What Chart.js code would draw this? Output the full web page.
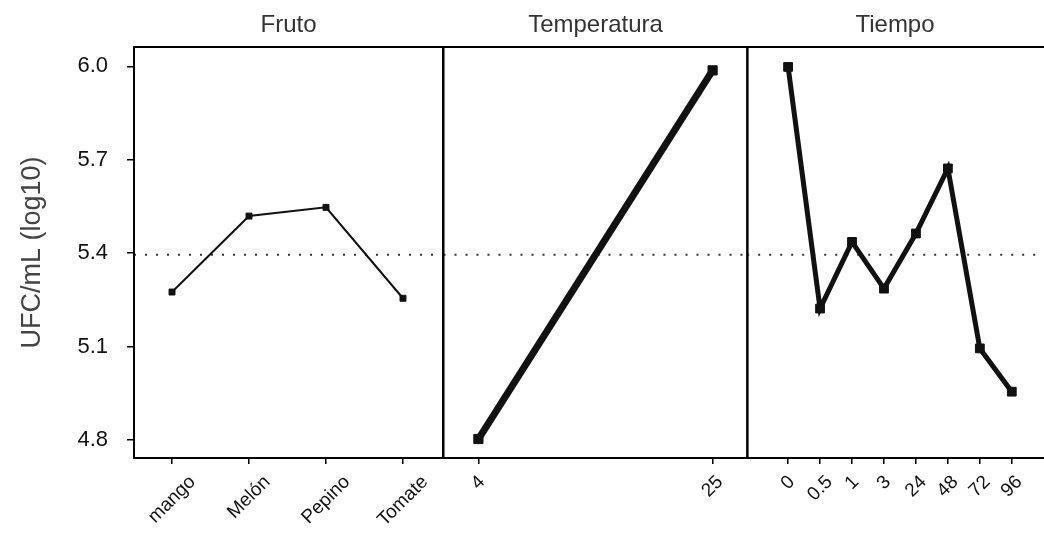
<!DOCTYPE html>
<html>
<head>
<meta charset="utf-8">
<title>Efectos principales - UFC/mL</title>
<script src="https://cdn.jsdelivr.net/npm/chart.js@4.4.1/dist/chart.umd.min.js"></script>
<style>
  html, body { margin: 0; padding: 0; background: #fff; overflow: hidden; }
  #wrap { position: relative; width: 1044px; height: 533px; }
  canvas { position: absolute; top: 0; }
</style>
</head>
<body>
<div id="wrap">
  <canvas id="cFruto" width="450" height="533" style="left:0px"></canvas>
  <canvas id="cTemp" width="319" height="533" style="left:436px"></canvas>
  <canvas id="cTiempo" width="310" height="533" style="left:740px"></canvas>
</div>
<script>
var frutoLabels = ['mango', 'Melón', 'Pepino', 'Tomate'];
var frutoValues = [5.275, 5.519, 5.547, 5.255];

var tempLabels = ['4', '25'];
var tempValues = [4.803, 5.987];

var tiempoLabels = ['0', '0.5', '1', '3', '24', '48', '72', '96'];
var tiempoValues = [5.998, 5.222, 5.436, 5.286, 5.463, 5.672, 5.094, 4.955];

var yTicks = [4.8, 5.1, 5.4, 5.7, 6.0];
var mediaGeneral = 5.395;

var FAMILIA = '"Liberation Sans", Arial, sans-serif';
var Y_MIN = 4.742, Y_MAX = 6.062;

// marco negro alrededor del area de cada panel (el ultimo queda abierto a la derecha)
function marco(abiertoDerecha) {
    return {
        id: 'marco',
        afterDraw: function (chart) {
            var a = chart.chartArea;
            var ctx = chart.ctx;
            ctx.save();
            ctx.strokeStyle = '#000';
            ctx.lineWidth = 2;
            ctx.beginPath();
            if (abiertoDerecha) {
                ctx.moveTo(a.right + 10, a.top);
                ctx.lineTo(a.left, a.top);
                ctx.lineTo(a.left, a.bottom);
                ctx.lineTo(a.right + 10, a.bottom);
            } else {
                ctx.rect(a.left, a.top, a.right - a.left, a.bottom - a.top);
            }
            ctx.stroke();
            ctx.restore();
        }
    };
}

// etiquetas del eje x giradas 45 grados y centradas en su marca
function etiquetasX(etiquetas) {
    return {
        id: 'etiquetasX',
        afterDraw: function (chart) {
            var sx = chart.scales.x;
            var ctx = chart.ctx;
            ctx.save();
            ctx.font = '19px ' + FAMILIA;
            ctx.fillStyle = '#111';
            ctx.textAlign = 'center';
            ctx.textBaseline = 'middle';
            sx.ticks.forEach(function (t) {
                var txt = etiquetas[t.value];
                var w = ctx.measureText(txt).width;
                var x = sx.getPixelForValue(t.value);
                var y = sx.top + 21 + w * 0.354;
                ctx.save();
                ctx.translate(x, y);
                ctx.rotate(-Math.PI / 4);
                ctx.fillText(txt, 0, 0);
                ctx.restore();
            });
            ctx.restore();
        }
    };
}

function panel(idCanvas, titulo, etiquetas, valores, xMin, xMax, estilo, conEjeY) {
    var puntos = valores.map(function (v, i) { return { x: i, y: v }; });
    var linea = [{ x: xMin, y: mediaGeneral }, { x: xMax, y: mediaGeneral }];

    var ejeY = {
        min: Y_MIN,
        max: Y_MAX,
        display: conEjeY,
        afterBuildTicks: function (s) {
            s.ticks = yTicks.map(function (v) { return { value: v }; });
        },
        ticks: {
            color: '#111',
            font: { size: 22, family: FAMILIA },
            padding: 19,
            callback: function (v) { return v.toFixed(1); }
        },
        grid: { drawOnChartArea: false, drawTicks: true, tickLength: 7, color: '#000', lineWidth: 1.5 },
        border: { display: false },
        title: {
            display: true,
            text: 'UFC/mL (log10)',
            color: '#444',
            font: { size: 27, family: FAMILIA },
            padding: { top: 16, bottom: 0 }
        }
    };
    if (conEjeY) {
        ejeY.afterFit = function (s) { s.width = 134; };
    }

    return new Chart(document.getElementById(idCanvas), {
        type: 'line',
        data: {
            datasets: [{
                data: puntos,
                borderColor: '#111',
                borderWidth: estilo.grosor,
                pointStyle: 'rect',
                pointRadius: estilo.marca,
                pointBackgroundColor: '#111',
                pointBorderColor: '#111',
                pointBorderWidth: 1
            }, {
                data: linea,
                borderColor: '#333',
                borderWidth: 2,
                borderDash: [2, 9],
                pointRadius: 0
            }]
        },
        options: {
            responsive: false,
            animation: false,
            layout: { padding: { left: estilo.izq, right: estilo.der, top: 0, bottom: 0 } },
            plugins: {
                legend: { display: false },
                tooltip: { enabled: false },
                title: {
                    display: true,
                    text: titulo,
                    fullSize: false,
                    color: '#333',
                    font: { size: 24, weight: 'normal', family: FAMILIA },
                    padding: { top: 10.6, bottom: 7.6 }
                }
            },
            scales: {
                x: {
                    type: 'linear',
                    min: xMin,
                    max: xMax,
                    afterBuildTicks: function (s) {
                        s.ticks = etiquetas.map(function (e, i) { return { value: i }; });
                    },
                    afterFit: function (s) { s.height = 75; },
                    ticks: { display: false },
                    grid: { drawOnChartArea: false, drawTicks: true, tickLength: 6, color: '#000', lineWidth: 1.5 },
                    border: { display: false }
                },
                y: ejeY
            }
        },
        plugins: [marco(estilo.abierto), etiquetasX(etiquetas)]
    });
}

panel('cFruto', 'Fruto', frutoLabels, frutoValues, -0.494, 3.52,
    { grosor: 2, marca: 4.2, izq: 0, der: 7, abierto: false }, true);
panel('cTemp', 'Temperatura', tempLabels, tempValues, -0.149, 1.149,
    { grosor: 7, marca: 6.5, izq: 7, der: 7, abierto: false }, false);
panel('cTiempo', 'Tiempo', tiempoLabels, tiempoValues, -1.28, 7.97,
    { grosor: 5, marca: 6.2, izq: 7, der: 0, abierto: true }, false);
</script>
</body>
</html>
